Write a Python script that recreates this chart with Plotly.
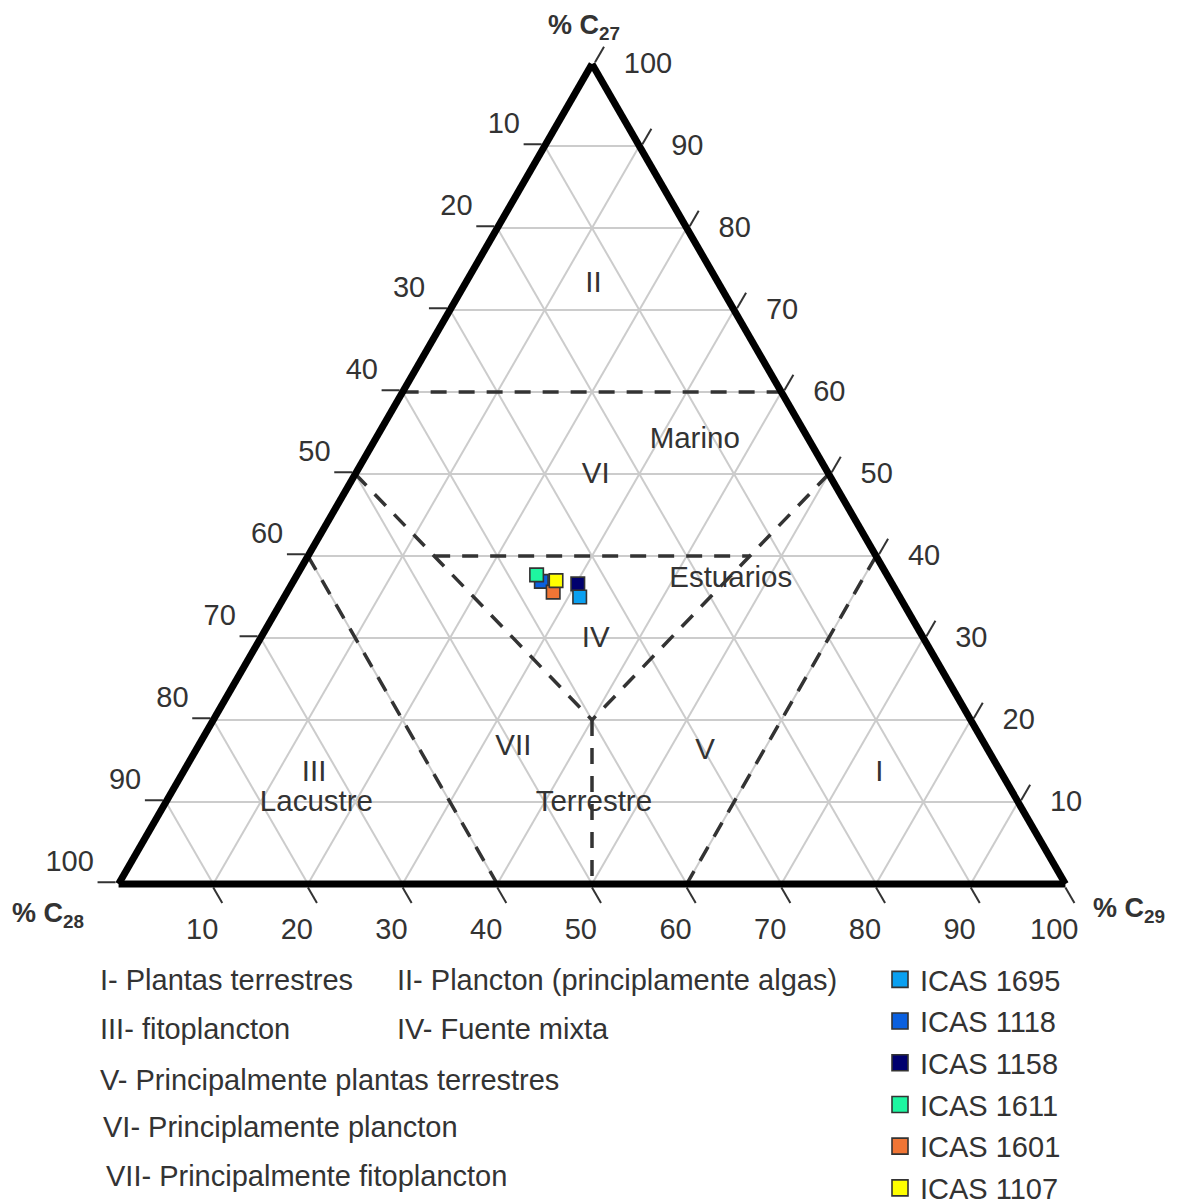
import plotly.graph_objects as go

# ---------------- data (percentages C27, C28, C29) ----------------
samples = ["ICAS 1695", "ICAS 1118", "ICAS 1158", "ICAS 1611", "ICAS 1601", "ICAS 1107"]
c27 = [35.0, 36.9, 36.6, 37.7, 35.6, 37.0]
c28 = [33.8, 36.9, 33.2, 37.0, 36.3, 35.3]
c29 = [31.2, 26.2, 30.2, 25.3, 28.1, 27.7]
colors = ["#0aa0f0", "#0a60e0", "#00006e", "#1ef5a0", "#f07535", "#ffff00"]
draw_order = [1, 2, 0, 3, 4, 5]

# tick positions along each edge and the labels printed there
tick_pos = [0, 10, 20, 30, 40, 50, 60, 70, 80, 90]
tick_labels = ["100", "90", "80", "70", "60", "50", "40", "30", "20", "10"]

# region boundaries (segments, endpoints as C27/C28/C29)
seg_c27 = [[60, 60], [40, 0], [40, 0], [50, 20], [50, 20], [40, 40], [20, 0]]
seg_c28 = [[40, 0], [60, 60], [0, 40], [50, 40], [0, 40], [46.67, 13.33], [40, 50]]
seg_c29 = [[0, 40], [0, 40], [60, 60], [0, 40], [50, 40], [13.33, 46.67], [40, 50]]

# region labels
region_text = ["II", "Marino", "VI", "Estuarios", "IV", "VII", "V", "I", "III", "Lacustre", "Terrestre"]
region_c27 = [73.1, 54.1, 49.8, 37.1, 29.8, 16.6, 16.1, 13.5, 13.5, 9.8, 9.8]
region_c28 = [13.3, 12.1, 24.7, 16.8, 34.7, 50.0, 30.0, 12.9, 72.6, 74.2, 44.9]
region_c29 = [13.6, 33.8, 25.5, 46.1, 35.5, 33.4, 53.9, 73.6, 13.9, 16.0, 45.3]

# key of the regions
key_text = ["I- Plantas terrestres", "II- Plancton (principlamente algas)",
            "III- fitoplancton", "IV- Fuente mixta",
            "V- Principalmente plantas terrestres", "VI- Principlamente plancton",
            "VII- Principalmente fitoplancton"]

W, H = 1177, 1203
FONT = "Liberation Sans, Arial, Helvetica, sans-serif"
TXT = "#333333"
NB = "\u00a0"

fig = go.Figure()

# region boundaries
ba, bb, bc = [], [], []
for i in range(len(seg_c27)):
    ba += seg_c27[i] + [None]
    bb += seg_c28[i] + [None]
    bc += seg_c29[i] + [None]
fig.add_trace(go.Scatterternary(a=ba, b=bb, c=bc, mode="lines", connectgaps=False,
                                line=dict(color="#333333", width=3.5, dash="16px,12px"),
                                showlegend=False, hoverinfo="skip"))

# region labels
fig.add_trace(go.Scatterternary(a=region_c27, b=region_c28, c=region_c29, mode="text",
                                text=region_text, textposition="middle center",
                                textfont=dict(family=FONT, size=29.5, color=TXT),
                                showlegend=False, hoverinfo="skip"))

# samples
for i in draw_order:
    fig.add_trace(go.Scatterternary(a=[c27[i]], b=[c28[i]], c=[c29[i]], mode="markers",
                                    name=samples[i], showlegend=False,
                                    marker=dict(symbol="square", size=13.5, color=colors[i],
                                                line=dict(color="#333333", width=1.6))))
# legend entries
for i in range(len(samples)):
    fig.add_trace(go.Scatterternary(a=[None], b=[None], c=[None], mode="markers",
                                    name=samples[i], legendgroup=samples[i],
                                    marker=dict(symbol="square", size=16, color=colors[i],
                                                line=dict(color="#333333", width=1.6))))


def axis_style(texts):
    return dict(showline=True, linewidth=7, linecolor="black", showgrid=True,
                gridcolor="#cccccc", gridwidth=2, tickmode="array",
                tickvals=tick_pos, ticktext=texts,
                ticks="outside", ticklen=18, tickwidth=2, tickcolor="#333333",
                showticklabels=True, tickfont=dict(family=FONT, size=29, color=TXT),
                title=dict(text=""))


# left edge (% C28): labels sit above their tick; bottom edge (% C29): labels left
# of the tick; right edge (% C27): labels level with the tick
left_text = [s + "<br>" + NB for s in tick_labels]
bottom_text = [s + NB * 5 for s in tick_labels]
right_text = [NB + "<br>" + NB * 2 + s for s in tick_labels]

# the page has an 8 px body margin: figure pixel = page pixel - 8
OFF = 8
annotations = []
key_x = [100, 397, 100, 397, 100, 103, 106]
key_y = [980, 980, 1029, 1029, 1080, 1127, 1176]
for s, x, y in zip(key_text, key_x, key_y):
    annotations.append(dict(text=s, x=(x - OFF - 2) / W, y=1 - (y - OFF) / H,
                            xref="paper", yref="paper",
                            xanchor="left", yanchor="middle", showarrow=False,
                            font=dict(family=FONT, size=29, color=TXT)))
for s, x, y, xa in [("<b>% C<sub>27</sub></b>", 586, 27, "center"),
                    ("<b>% C<sub>28</sub></b>", 12, 915, "left"),
                    ("<b>% C<sub>29</sub></b>", 1093, 910, "left")]:
    annotations.append(dict(text=s, x=(x - OFF - 2) / W, y=1 - (y - OFF) / H,
                            xref="paper", yref="paper",
                            xanchor=xa, yanchor="middle", showarrow=False,
                            font=dict(family=FONT, size=27, color=TXT)))

tri_x0, tri_x1 = 118 - OFF, 1066 - OFF
tri_top, tri_base = 64 - OFF, 884 - OFF

fig.update_layout(
    width=W, height=H, margin=dict(l=0, r=0, t=0, b=0, autoexpand=False),
    paper_bgcolor="white", plot_bgcolor="white",
    font=dict(family=FONT, size=29, color=TXT),
    hovermode=False,
    ternary=dict(sum=100, bgcolor="white",
                 domain=dict(x=[tri_x0 / W, tri_x1 / W],
                             y=[(H - tri_base) / H, (H - tri_top) / H]),
                 aaxis=axis_style(left_text), baxis=axis_style(bottom_text),
                 caxis=axis_style(right_text)),
    showlegend=True,
    legend=dict(x=872 / W, y=1 - (954 - OFF) / H, xanchor="left", yanchor="top",
                font=dict(family=FONT, size=29, color=TXT), itemsizing="trace",
                tracegroupgap=1, bgcolor="rgba(0,0,0,0)"),
    annotations=annotations,
)

fig.write_html("out.html")
